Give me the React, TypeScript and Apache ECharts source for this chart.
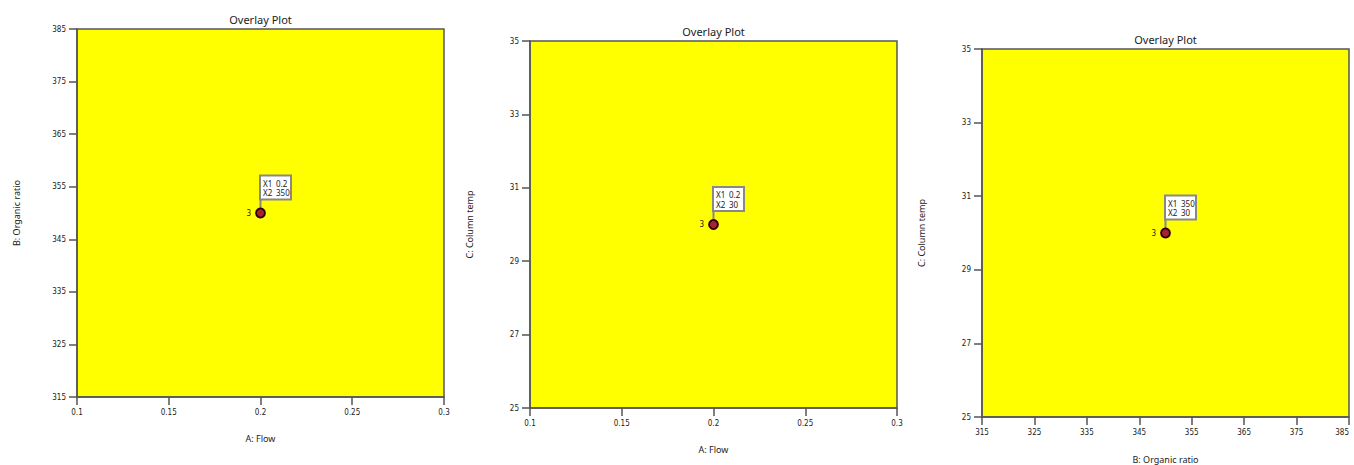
import React, { useEffect, useRef } from "react";
import * as echarts from "echarts";

const plotTitles = ["Overlay Plot", "Overlay Plot", "Overlay Plot"];
const xNames = ["A: Flow", "A: Flow", "B: Organic ratio"];
const yNames = ["B: Organic ratio", "C: Column temp", "C: Column temp"];
const xMins = [0.1, 0.1, 315];
const xMaxs = [0.3, 0.3, 385];
const xSteps = [0.05, 0.05, 10];
const yMins = [315, 25, 25];
const yMaxs = [385, 35, 35];
const ySteps = [10, 2, 2];
const pointX = [0.2, 0.2, 350];
const pointY = [350, 30, 30];
const pointNames = ["3", "3", "3"];
const flagX1 = ["0.2", "0.2", "350"];
const flagX2 = ["350", "30", "30"];

const grids = [
  { left: 77, top: 29, width: 367, height: 368 },
  { left: 530, top: 41, width: 367, height: 367 },
  { left: 982, top: 49, width: 367, height: 368 },
];
const xNameGaps = [37, 37, 38];
const yNameGaps = [56, 56, 56];
const alignMax = [null, null, "right"];

const tickFont = "'Liberation Sans Narrow', 'DejaVu Sans Condensed', sans-serif";
const mainFont = "'Noto Sans', 'Open Sans', sans-serif";

const fmt = (v: number) => String(+v.toFixed(4));

export default function App() {
  const ref = useRef<HTMLDivElement>(null);
  useEffect(() => {
    document.body.style.margin = "0";
    const chart = echarts.init(ref.current!, null, { renderer: "svg" });
    const xAxis: any[] = [];
    const yAxis: any[] = [];
    const series: any[] = [];
    const graphic: any[] = [];
    grids.forEach((g, i) => {
      const axisCommon = {
        axisLine: { show: true, lineStyle: { color: "#555", width: 1.5 } },
        axisTick: { show: true, inside: false, length: 8, lineStyle: { color: "#555", width: 1.5 } },
        splitLine: { show: false },
        nameLocation: "middle",
        nameTextStyle: { fontFamily: mainFont, fontSize: 9, color: "#222" },
      };
      const xm = xMins[i];
      const ym = yMins[i];
      xAxis.push({
        ...axisCommon,
        type: "value",
        gridIndex: i,
        min: 0,
        max: +(xMaxs[i] - xm).toFixed(6),
        interval: xSteps[i],
        name: xNames[i],
        nameGap: xNameGaps[i],
        axisLabel: {
          margin: 11,
          fontFamily: tickFont,
          fontSize: 8,
          color: "#222",
          alignMaxLabel: alignMax[i],
          formatter: (v: number) => fmt(v + xm),
        },
      });
      yAxis.push({
        ...axisCommon,
        type: "value",
        gridIndex: i,
        min: 0,
        max: +(yMaxs[i] - ym).toFixed(6),
        interval: ySteps[i],
        name: yNames[i],
        nameGap: yNameGaps[i],
        axisLabel: {
          margin: 11,
          fontFamily: tickFont,
          fontSize: 8,
          color: "#222",
          formatter: (v: number) => fmt(v + ym),
        },
      });
      const d = [[pointX[i] - xm, pointY[i] - ym, i]];
      series.push({
        type: "custom",
        xAxisIndex: i,
        yAxisIndex: i,
        data: d,
        z: 3,
        renderItem: (params: any, api: any) => {
          const p = api.coord([api.value(0), api.value(1)]);
          const k = api.value(2);
          const bx = p[0] - 0.5;
          const by = p[1] - 37.5;
          return {
            type: "group",
            children: [
              { type: "line", shape: { x1: p[0], y1: p[1] - 4, x2: p[0], y2: by + 24 }, style: { stroke: "#888", lineWidth: 2 } },
              { type: "rect", shape: { x: bx, y: by, width: 31, height: 24 }, style: { fill: "#fff", stroke: "#888", lineWidth: 2 } },
              { type: "text", style: { x: bx + 3, y: by + 7.5, text: "X1", fontSize: 8, fontFamily: mainFont, fill: "#222", verticalAlign: "middle" } },
              { type: "text", style: { x: bx + 16, y: by + 7.5, text: flagX1[k], fontSize: 8, fontFamily: mainFont, fill: "#222", verticalAlign: "middle" } },
              { type: "text", style: { x: bx + 3, y: by + 17, text: "X2", fontSize: 8, fontFamily: mainFont, fill: "#222", verticalAlign: "middle" } },
              { type: "text", style: { x: bx + 16, y: by + 17, text: flagX2[k], fontSize: 8, fontFamily: mainFont, fill: "#222", verticalAlign: "middle" } },
            ],
          };
        },
      });
      series.push({
        type: "scatter",
        xAxisIndex: i,
        yAxisIndex: i,
        data: d.map((r) => [r[0], r[1]]),
        symbolSize: 9,
        z: 4,
        itemStyle: { color: "#a82034", borderColor: "#2a0006", borderWidth: 1.8, opacity: 1 },
        label: {
          show: true,
          position: "left",
          distance: 4,
          formatter: () => pointNames[i],
          fontSize: 8,
          fontFamily: tickFont,
          color: "#222",
        },
      });
      graphic.push({
        type: "text",
        x: g.left + g.width / 2,
        y: g.top - 10,
        style: {
          text: plotTitles[i],
          fontFamily: mainFont,
          fontSize: 11,
          fill: "#222",
          textAlign: "center",
          textVerticalAlign: "middle",
        },
      });
    });
    chart.setOption({
      animation: false,
      grid: grids.map((g) => ({
        ...g,
        show: true,
        backgroundColor: "#ffff00",
        borderColor: "#555",
        borderWidth: 1.5,
        containLabel: false,
        outerBoundsMode: "none",
      })),
      xAxis,
      yAxis,
      series,
      graphic,
    });
    return () => chart.dispose();
  }, []);
  return <div ref={ref} style={{ width: 1354, height: 465 }} />;
}
